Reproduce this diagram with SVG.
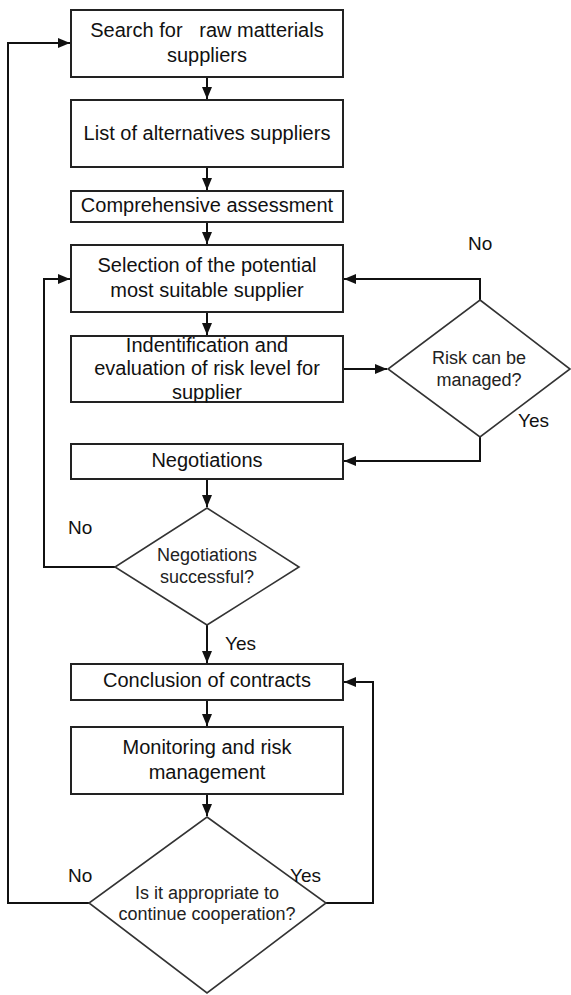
<svg xmlns="http://www.w3.org/2000/svg" width="571" height="995" viewBox="0 0 571 995">
<defs>
<style>
.box{fill:#fff;stroke:#222;stroke-width:2}
.dia{fill:#fff;stroke:#333;stroke-width:1.6}
.t{font-family:"Liberation Sans",Arial,sans-serif;font-size:20px;fill:#111;text-anchor:middle}
.dt{font-family:"Liberation Sans",Arial,sans-serif;font-size:18px;fill:#222;text-anchor:middle}
.lbl{font-family:"Liberation Sans",Arial,sans-serif;font-size:19px;fill:#111}
.c{fill:none;stroke:#111;stroke-width:2}
</style>
<marker id="ah" viewBox="0 0 12 10" refX="12" refY="5" markerWidth="12" markerHeight="10" markerUnits="userSpaceOnUse" orient="auto">
<path d="M0,0 L12,5 L0,10 z" fill="#111"/>
</marker>
</defs>
<rect width="571" height="995" fill="#fff"/>
<g id="connectors">
<path class="c" d="M207,77 V99" marker-end="url(#ah)"/>
<path class="c" d="M207,167 V190" marker-end="url(#ah)"/>
<path class="c" d="M207,222 V244" marker-end="url(#ah)"/>
<path class="c" d="M207,312 V335" marker-end="url(#ah)"/>
<path class="c" d="M343,369 H387" marker-end="url(#ah)"/>
<path class="c" d="M480,300 V279 H344" marker-end="url(#ah)"/>
<path class="c" d="M480,437 V461 H344" marker-end="url(#ah)"/>
<path class="c" d="M207,479 V507" marker-end="url(#ah)"/>
<path class="c" d="M115,567 H44 V279 H70" marker-end="url(#ah)"/>
<path class="c" d="M207,625 V663" marker-end="url(#ah)"/>
<path class="c" d="M207,700 V726" marker-end="url(#ah)"/>
<path class="c" d="M207,794 V816" marker-end="url(#ah)"/>
<path class="c" d="M89,903 H8 V43 H70" marker-end="url(#ah)"/>
<path class="c" d="M326,903 H373 V682 H344" marker-end="url(#ah)"/>
</g>
<g id="search">
<rect class="box" x="71" y="10" width="272" height="67"/>
<text class="t" x="207" y="37" xml:space="preserve">Search for   raw matterials</text>
<text class="t" x="207" y="62">suppliers</text>
</g>
<g id="list">
<rect class="box" x="71" y="100" width="272" height="67"/>
<text class="t" x="207" y="140">List of alternatives suppliers</text>
</g>
<g id="assessment">
<rect class="box" x="71" y="191" width="272" height="31"/>
<text class="t" x="207" y="212">Comprehensive assessment</text>
</g>
<g id="selection">
<rect class="box" x="71" y="245" width="272" height="67"/>
<text class="t" x="207" y="272">Selection of the potential</text>
<text class="t" x="207" y="297">most suitable supplier</text>
</g>
<g id="identification">
<rect class="box" x="71" y="336" width="272" height="66"/>
<text class="t" x="207" y="352">Indentification and</text>
<text class="t" x="207" y="375">evaluation of risk level for</text>
<text class="t" x="207" y="399">supplier</text>
</g>
<g id="risk-decision">
<polygon class="dia" points="480,300 570,369 480,437 388,369"/>
<text class="dt" x="479" y="364">Risk can be</text>
<text class="dt" x="479" y="386">managed?</text>
</g>
<g id="negotiations">
<rect class="box" x="71" y="444" width="272" height="35"/>
<text class="t" x="207" y="467">Negotiations</text>
</g>
<g id="negotiations-decision">
<polygon class="dia" points="207,508 299,567 207,625 115,567"/>
<text class="dt" x="207" y="561">Negotiations</text>
<text class="dt" x="207" y="583">successful?</text>
</g>
<g id="contracts">
<rect class="box" x="71" y="664" width="272" height="36"/>
<text class="t" x="207" y="687">Conclusion of contracts</text>
</g>
<g id="monitoring">
<rect class="box" x="71" y="727" width="272" height="67"/>
<text class="t" x="207" y="754">Monitoring and risk</text>
<text class="t" x="207" y="779">management</text>
</g>
<g id="continue-decision">
<polygon class="dia" points="207,817 326,903 207,993 89,903"/>
<text class="dt" x="207" y="899">Is it appropriate to</text>
<text class="dt" x="207" y="920">continue cooperation?</text>
</g>
<g id="labels">
<text class="lbl" x="468" y="250">No</text>
<text class="lbl" x="518" y="427">Yes</text>
<text class="lbl" x="68" y="534">No</text>
<text class="lbl" x="225" y="650">Yes</text>
<text class="lbl" x="68" y="882">No</text>
<text class="lbl" x="290" y="882">Yes</text>
</g>
</svg>
